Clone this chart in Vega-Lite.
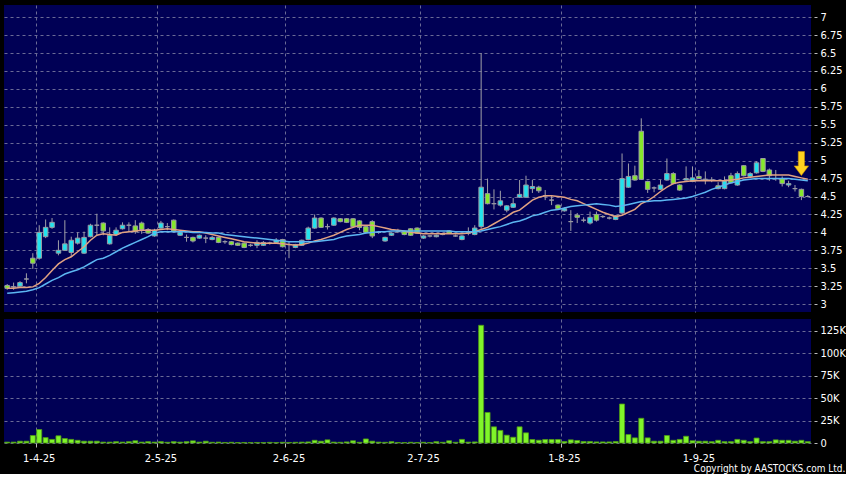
{
"$schema": "https://vega.github.io/schema/vega-lite/v6.json",
"background": "#000000",
"padding": {"left": 4, "top": 5, "right": 0, "bottom": 0},
"autosize": {"type": "pad"},
"spacing": 7,
"config": {
  "view": {"fill": "#000055", "stroke": null},
  "axis": {"gridColor": "#6a6a96", "gridDash": [3, 3], "gridWidth": 1, "labelColor": "#ffffff", "labelFont": "DejaVu Sans Condensed, DejaVu Sans", "labelFontSize": 11, "tickColor": "#bbbbbb", "domain": false, "title": null, "labelOverlap": false}
},
"title": {"text": "Copyright by AASTOCKS.com Ltd.", "orient": "bottom", "anchor": "end", "frame": "bounds", "color": "#ffffff", "fontSize": 10, "font": "DejaVu Sans Condensed, DejaVu Sans", "fontWeight": "normal", "offset": 1},
"datasets": {"p": [
{"d":"25-3-25","o":3.26,"h":3.28,"l":3.20,"c":3.22,"v":1000,"m1":3.22,"m2":3.15},
{"d":"26-3-25","o":3.24,"h":3.30,"l":3.20,"c":3.24,"v":1000,"m1":3.22,"m2":3.16},
{"d":"27-3-25","o":3.25,"h":3.32,"l":3.24,"c":3.30,"v":2000,"m1":3.23,"m2":3.17},
{"d":"28-3-25","o":3.35,"h":3.43,"l":3.29,"c":3.35,"v":2000,"m1":3.23,"m2":3.18},
{"d":"31-3-25","o":3.64,"h":3.71,"l":3.49,"c":3.57,"v":8300,"m1":3.24,"m2":3.20},
{"d":"1-4-25","o":3.64,"h":4.10,"l":3.62,"c":4.00,"v":15000,"m1":3.29,"m2":3.23},
{"d":"2-4-25","o":3.94,"h":4.18,"l":3.92,"c":4.07,"v":6000,"m1":3.37,"m2":3.28},
{"d":"3-4-25","o":4.07,"h":4.20,"l":4.05,"c":4.14,"v":4000,"m1":3.47,"m2":3.33},
{"d":"7-4-25","o":3.71,"h":3.89,"l":3.68,"c":3.75,"v":8000,"m1":3.56,"m2":3.37},
{"d":"8-4-25","o":3.75,"h":4.17,"l":3.74,"c":3.84,"v":5000,"m1":3.62,"m2":3.42},
{"d":"9-4-25","o":3.72,"h":3.94,"l":3.66,"c":3.89,"v":4000,"m1":3.66,"m2":3.45},
{"d":"10-4-25","o":3.85,"h":4.00,"l":3.83,"c":3.92,"v":3000,"m1":3.73,"m2":3.48},
{"d":"11-4-25","o":3.71,"h":4.01,"l":3.70,"c":3.93,"v":2000,"m1":3.80,"m2":3.52},
{"d":"14-4-25","o":3.94,"h":4.12,"l":3.93,"c":4.10,"v":2000,"m1":3.89,"m2":3.57},
{"d":"15-4-25","o":4.10,"h":4.26,"l":3.96,"c":4.10,"v":2000,"m1":3.96,"m2":3.62},
{"d":"16-4-25","o":4.13,"h":4.14,"l":3.96,"c":4.02,"v":1000,"m1":3.98,"m2":3.64},
{"d":"17-4-25","o":3.84,"h":4.07,"l":3.83,"c":3.96,"v":1000,"m1":3.97,"m2":3.68},
{"d":"22-4-25","o":3.97,"h":4.07,"l":3.96,"c":4.03,"v":1500,"m1":3.96,"m2":3.73},
{"d":"23-4-25","o":4.05,"h":4.14,"l":4.04,"c":4.10,"v":1000,"m1":4.00,"m2":3.78},
{"d":"24-4-25","o":4.10,"h":4.14,"l":4.00,"c":4.10,"v":1500,"m1":4.01,"m2":3.82},
{"d":"25-4-25","o":4.09,"h":4.17,"l":3.98,"c":4.01,"v":2500,"m1":4.02,"m2":3.86},
{"d":"28-4-25","o":4.13,"h":4.15,"l":3.98,"c":4.04,"v":1000,"m1":4.03,"m2":3.90},
{"d":"29-4-25","o":4.04,"h":4.06,"l":3.98,"c":3.99,"v":1500,"m1":4.03,"m2":3.94},
{"d":"30-4-25","o":3.95,"h":4.05,"l":3.94,"c":4.03,"v":1000,"m1":4.03,"m2":3.99},
{"d":"2-5-25","o":4.06,"h":4.16,"l":4.05,"c":4.13,"v":1500,"m1":4.04,"m2":4.01},
{"d":"6-5-25","o":4.08,"h":4.13,"l":4.03,"c":4.08,"v":800,"m1":4.05,"m2":4.01},
{"d":"7-5-25","o":4.17,"h":4.18,"l":4.00,"c":4.02,"v":1500,"m1":4.04,"m2":4.01},
{"d":"8-5-25","o":3.96,"h":4.03,"l":3.95,"c":4.00,"v":1000,"m1":4.03,"m2":4.01},
{"d":"9-5-25","o":3.93,"h":3.97,"l":3.87,"c":3.93,"v":1500,"m1":4.02,"m2":4.01},
{"d":"12-5-25","o":3.93,"h":3.94,"l":3.86,"c":3.88,"v":2400,"m1":4.01,"m2":4.00},
{"d":"13-5-25","o":3.92,"h":3.97,"l":3.91,"c":3.96,"v":1000,"m1":4.01,"m2":4.00},
{"d":"14-5-25","o":3.92,"h":3.96,"l":3.85,"c":3.92,"v":2000,"m1":3.99,"m2":4.00},
{"d":"15-5-25","o":3.90,"h":3.95,"l":3.89,"c":3.93,"v":800,"m1":3.97,"m2":3.99},
{"d":"16-5-25","o":3.93,"h":3.94,"l":3.85,"c":3.86,"v":1000,"m1":3.95,"m2":3.99},
{"d":"19-5-25","o":3.87,"h":3.89,"l":3.84,"c":3.87,"v":600,"m1":3.93,"m2":3.97},
{"d":"20-5-25","o":3.87,"h":3.88,"l":3.82,"c":3.83,"v":800,"m1":3.91,"m2":3.96},
{"d":"21-5-25","o":3.85,"h":3.86,"l":3.81,"c":3.82,"v":500,"m1":3.89,"m2":3.95},
{"d":"22-5-25","o":3.85,"h":3.86,"l":3.78,"c":3.79,"v":600,"m1":3.87,"m2":3.94},
{"d":"23-5-25","o":3.82,"h":3.84,"l":3.80,"c":3.82,"v":500,"m1":3.86,"m2":3.93},
{"d":"26-5-25","o":3.82,"h":3.89,"l":3.78,"c":3.86,"v":600,"m1":3.85,"m2":3.92},
{"d":"27-5-25","o":3.82,"h":3.88,"l":3.81,"c":3.86,"v":500,"m1":3.85,"m2":3.91},
{"d":"28-5-25","o":3.85,"h":3.87,"l":3.83,"c":3.85,"v":700,"m1":3.85,"m2":3.90},
{"d":"29-5-25","o":3.86,"h":3.92,"l":3.85,"c":3.89,"v":500,"m1":3.85,"m2":3.89},
{"d":"30-5-25","o":3.90,"h":3.91,"l":3.79,"c":3.80,"v":800,"m1":3.84,"m2":3.88},
{"d":"2-6-25","o":3.83,"h":3.87,"l":3.64,"c":3.83,"v":600,"m1":3.83,"m2":3.87},
{"d":"3-6-25","o":3.79,"h":3.84,"l":3.78,"c":3.83,"v":800,"m1":3.82,"m2":3.87},
{"d":"4-6-25","o":3.82,"h":3.90,"l":3.81,"c":3.89,"v":1000,"m1":3.83,"m2":3.87},
{"d":"5-6-25","o":3.90,"h":4.08,"l":3.89,"c":4.06,"v":1200,"m1":3.85,"m2":3.87},
{"d":"6-6-25","o":4.06,"h":4.25,"l":4.05,"c":4.20,"v":3000,"m1":3.88,"m2":3.87},
{"d":"9-6-25","o":4.20,"h":4.21,"l":4.06,"c":4.07,"v":2000,"m1":3.90,"m2":3.88},
{"d":"10-6-25","o":4.08,"h":4.12,"l":4.04,"c":4.08,"v":3500,"m1":3.93,"m2":3.89},
{"d":"11-6-25","o":4.10,"h":4.21,"l":4.09,"c":4.20,"v":1000,"m1":3.96,"m2":3.90},
{"d":"12-6-25","o":4.19,"h":4.20,"l":4.14,"c":4.15,"v":800,"m1":4.00,"m2":3.93},
{"d":"13-6-25","o":4.19,"h":4.20,"l":4.13,"c":4.14,"v":1200,"m1":4.04,"m2":3.95},
{"d":"16-6-25","o":4.19,"h":4.20,"l":4.06,"c":4.08,"v":2500,"m1":4.07,"m2":3.96},
{"d":"17-6-25","o":4.16,"h":4.17,"l":4.03,"c":4.07,"v":800,"m1":4.10,"m2":3.97},
{"d":"18-6-25","o":4.08,"h":4.09,"l":3.98,"c":4.00,"v":4500,"m1":4.10,"m2":3.99},
{"d":"19-6-25","o":4.15,"h":4.17,"l":3.92,"c":3.95,"v":2000,"m1":4.10,"m2":4.00},
{"d":"20-6-25","o":4.00,"h":4.02,"l":3.98,"c":4.00,"v":1000,"m1":4.08,"m2":4.01},
{"d":"23-6-25","o":3.88,"h":3.94,"l":3.87,"c":3.93,"v":800,"m1":4.06,"m2":4.01},
{"d":"24-6-25","o":3.96,"h":4.00,"l":3.95,"c":3.99,"v":1500,"m1":4.04,"m2":4.02},
{"d":"25-6-25","o":4.01,"h":4.05,"l":3.99,"c":4.01,"v":600,"m1":4.03,"m2":4.02},
{"d":"26-6-25","o":4.01,"h":4.02,"l":3.96,"c":3.97,"v":500,"m1":4.02,"m2":4.02},
{"d":"27-6-25","o":4.05,"h":4.06,"l":3.95,"c":3.96,"v":800,"m1":4.00,"m2":4.02},
{"d":"30-6-25","o":4.06,"h":4.07,"l":3.98,"c":3.99,"v":600,"m1":3.99,"m2":4.02},
{"d":"2-7-25","o":3.92,"h":3.96,"l":3.91,"c":3.95,"v":800,"m1":3.98,"m2":4.02},
{"d":"3-7-25","o":3.95,"h":3.96,"l":3.93,"c":3.95,"v":500,"m1":3.98,"m2":4.02},
{"d":"4-7-25","o":3.94,"h":3.97,"l":3.93,"c":3.96,"v":1500,"m1":3.98,"m2":4.02},
{"d":"7-7-25","o":3.97,"h":3.98,"l":3.96,"c":3.97,"v":800,"m1":3.98,"m2":4.02},
{"d":"8-7-25","o":4.02,"h":4.03,"l":3.98,"c":3.99,"v":2500,"m1":3.98,"m2":4.02},
{"d":"9-7-25","o":3.95,"h":3.97,"l":3.94,"c":3.95,"v":800,"m1":3.98,"m2":4.01},
{"d":"10-7-25","o":3.90,"h":3.96,"l":3.89,"c":3.95,"v":4000,"m1":3.98,"m2":4.01},
{"d":"11-7-25","o":3.99,"h":4.07,"l":3.96,"c":3.99,"v":1000,"m1":3.99,"m2":4.01},
{"d":"14-7-25","o":3.97,"h":4.10,"l":3.96,"c":4.06,"v":1200,"m1":4.01,"m2":4.01},
{"d":"15-7-25","o":4.08,"h":6.50,"l":4.05,"c":4.63,"v":131000,"m1":4.04,"m2":4.02},
{"d":"16-7-25","o":4.54,"h":4.75,"l":4.39,"c":4.40,"v":34000,"m1":4.07,"m2":4.04},
{"d":"17-7-25","o":4.40,"h":4.60,"l":4.32,"c":4.40,"v":18000,"m1":4.12,"m2":4.06},
{"d":"18-7-25","o":4.38,"h":4.58,"l":4.36,"c":4.44,"v":14000,"m1":4.17,"m2":4.08},
{"d":"21-7-25","o":4.31,"h":4.38,"l":4.28,"c":4.37,"v":8700,"m1":4.22,"m2":4.11},
{"d":"22-7-25","o":4.35,"h":4.48,"l":4.34,"c":4.40,"v":6400,"m1":4.28,"m2":4.14},
{"d":"23-7-25","o":4.49,"h":4.73,"l":4.48,"c":4.53,"v":18000,"m1":4.31,"m2":4.16},
{"d":"24-7-25","o":4.49,"h":4.79,"l":4.48,"c":4.66,"v":11300,"m1":4.38,"m2":4.19},
{"d":"25-7-25","o":4.61,"h":4.73,"l":4.55,"c":4.64,"v":3900,"m1":4.45,"m2":4.23},
{"d":"28-7-25","o":4.63,"h":4.65,"l":4.55,"c":4.58,"v":3100,"m1":4.49,"m2":4.25},
{"d":"29-7-25","o":4.51,"h":4.59,"l":4.45,"c":4.51,"v":3900,"m1":4.51,"m2":4.28},
{"d":"30-7-25","o":4.45,"h":4.52,"l":4.38,"c":4.45,"v":3900,"m1":4.51,"m2":4.31},
{"d":"31-7-25","o":4.38,"h":4.39,"l":4.32,"c":4.33,"v":3900,"m1":4.50,"m2":4.32},
{"d":"1-8-25","o":4.30,"h":4.35,"l":4.29,"c":4.33,"v":1700,"m1":4.49,"m2":4.34},
{"d":"4-8-25","o":4.15,"h":4.31,"l":4.02,"c":4.15,"v":3500,"m1":4.46,"m2":4.36},
{"d":"5-8-25","o":4.24,"h":4.27,"l":4.13,"c":4.21,"v":2800,"m1":4.44,"m2":4.37},
{"d":"6-8-25","o":4.17,"h":4.21,"l":4.14,"c":4.17,"v":1700,"m1":4.40,"m2":4.38},
{"d":"7-8-25","o":4.13,"h":4.29,"l":4.11,"c":4.21,"v":1700,"m1":4.36,"m2":4.39},
{"d":"8-8-25","o":4.25,"h":4.29,"l":4.15,"c":4.17,"v":1200,"m1":4.32,"m2":4.40},
{"d":"11-8-25","o":4.22,"h":4.24,"l":4.20,"c":4.22,"v":1200,"m1":4.28,"m2":4.39},
{"d":"12-8-25","o":4.20,"h":4.22,"l":4.18,"c":4.20,"v":1200,"m1":4.25,"m2":4.38},
{"d":"13-8-25","o":4.18,"h":4.24,"l":4.17,"c":4.23,"v":1700,"m1":4.22,"m2":4.36},
{"d":"14-8-25","o":4.27,"h":5.10,"l":4.25,"c":4.75,"v":43400,"m1":4.24,"m2":4.37},
{"d":"15-8-25","o":4.63,"h":4.96,"l":4.62,"c":4.78,"v":9400,"m1":4.28,"m2":4.39},
{"d":"18-8-25","o":4.79,"h":4.93,"l":4.72,"c":4.73,"v":5700,"m1":4.32,"m2":4.41},
{"d":"19-8-25","o":5.41,"h":5.59,"l":4.73,"c":4.74,"v":27500,"m1":4.40,"m2":4.43},
{"d":"20-8-25","o":4.71,"h":4.72,"l":4.55,"c":4.60,"v":5700,"m1":4.44,"m2":4.43},
{"d":"21-8-25","o":4.62,"h":4.64,"l":4.56,"c":4.62,"v":2000,"m1":4.50,"m2":4.44},
{"d":"22-8-25","o":4.60,"h":4.73,"l":4.59,"c":4.66,"v":2000,"m1":4.57,"m2":4.44},
{"d":"25-8-25","o":4.73,"h":5.03,"l":4.72,"c":4.82,"v":8300,"m1":4.63,"m2":4.45},
{"d":"26-8-25","o":4.82,"h":4.84,"l":4.67,"c":4.68,"v":3000,"m1":4.68,"m2":4.46},
{"d":"27-8-25","o":4.66,"h":4.67,"l":4.58,"c":4.59,"v":4000,"m1":4.70,"m2":4.47},
{"d":"28-8-25","o":4.73,"h":4.92,"l":4.72,"c":4.75,"v":7500,"m1":4.71,"m2":4.48},
{"d":"29-8-25","o":4.71,"h":4.92,"l":4.70,"c":4.76,"v":2500,"m1":4.72,"m2":4.50},
{"d":"1-9-25","o":4.78,"h":4.87,"l":4.74,"c":4.75,"v":2000,"m1":4.72,"m2":4.53},
{"d":"2-9-25","o":4.74,"h":4.85,"l":4.67,"c":4.74,"v":2000,"m1":4.72,"m2":4.56},
{"d":"3-9-25","o":4.73,"h":4.77,"l":4.70,"c":4.73,"v":1500,"m1":4.72,"m2":4.60},
{"d":"4-9-25","o":4.65,"h":4.70,"l":4.60,"c":4.61,"v":3000,"m1":4.72,"m2":4.63},
{"d":"5-9-25","o":4.61,"h":4.78,"l":4.60,"c":4.72,"v":1500,"m1":4.72,"m2":4.66},
{"d":"8-9-25","o":4.79,"h":4.83,"l":4.68,"c":4.69,"v":1500,"m1":4.73,"m2":4.69},
{"d":"9-9-25","o":4.66,"h":4.85,"l":4.65,"c":4.82,"v":4000,"m1":4.74,"m2":4.71},
{"d":"10-9-25","o":4.93,"h":4.94,"l":4.78,"c":4.79,"v":3000,"m1":4.76,"m2":4.73},
{"d":"11-9-25","o":4.78,"h":4.84,"l":4.77,"c":4.82,"v":1500,"m1":4.77,"m2":4.74},
{"d":"12-9-25","o":4.83,"h":4.99,"l":4.82,"c":4.97,"v":5500,"m1":4.78,"m2":4.75},
{"d":"15-9-25","o":5.03,"h":5.03,"l":4.84,"c":4.85,"v":1500,"m1":4.79,"m2":4.75},
{"d":"16-9-25","o":4.87,"h":4.89,"l":4.72,"c":4.79,"v":1500,"m1":4.80,"m2":4.75},
{"d":"17-9-25","o":4.75,"h":4.87,"l":4.72,"c":4.75,"v":3500,"m1":4.80,"m2":4.75},
{"d":"18-9-25","o":4.75,"h":4.78,"l":4.64,"c":4.68,"v":3000,"m1":4.80,"m2":4.75},
{"d":"19-9-25","o":4.66,"h":4.72,"l":4.63,"c":4.68,"v":3000,"m1":4.80,"m2":4.75},
{"d":"22-9-25","o":4.61,"h":4.66,"l":4.57,"c":4.61,"v":2000,"m1":4.78,"m2":4.74},
{"d":"23-9-25","o":4.60,"h":4.61,"l":4.45,"c":4.50,"v":3000,"m1":4.76,"m2":4.73,"ar":4.96},
{"d":"24-9-25","o":4.50,"h":4.52,"l":4.49,"c":4.50,"v":1500,"m1":4.74,"m2":4.72}
]},
"data": {"name": "p"},
"vconcat": [
  {
    "width": 807,
    "height": 307,
    "encoding": {
      "x": {"field": "d", "type": "ordinal", "sort": null, "scale": {"type": "band", "paddingInner": 0, "paddingOuter": 0},
            "axis": {"values": ["1-4-25", "2-5-25", "2-6-25", "2-7-25", "1-8-25", "1-9-25"], "bandPosition": 0, "labels": false, "ticks": false, "grid": true}}
    },
    "layer": [
      {
        "mark": {"type": "rule", "color": "#a0a0a8", "strokeWidth": 1},
        "encoding": {
          "y": {"field": "l", "type": "quantitative", "scale": {"domain": [2.89, 7.17], "nice": false, "zero": false},
                "axis": {"orient": "right", "values": [3, 3.25, 3.5, 3.75, 4, 4.25, 4.5, 4.75, 5, 5.25, 5.5, 5.75, 6, 6.25, 6.5, 6.75, 7], "labelExpr": "'' + datum.value", "grid": true, "tickSize": 3, "offset": 3, "labelPadding": 3, "labelOverlap": false}},
          "y2": {"field": "h"}
        }
      },
      {
        "mark": {"type": "bar", "width": 4.5, "stroke": "#9a9aa4", "strokeWidth": 1},
        "encoding": {
          "y": {"field": "o", "type": "quantitative",
                "axis": {"orient": "right", "values": [3, 3.25, 3.5, 3.75, 4, 4.25, 4.5, 4.75, 5, 5.25, 5.5, 5.75, 6, 6.25, 6.5, 6.75, 7], "labelExpr": "'' + datum.value", "grid": true, "tickSize": 3, "offset": 3, "labelPadding": 3, "labelOverlap": false}},
          "y2": {"field": "c"},
          "fill": {"condition": [{"test": "datum.c > datum.o", "value": "#22e2ee"}, {"test": "datum.c < datum.o", "value": "#86e82c"}], "value": "#9a9aa4"}
        }
      },
      {
        "mark": {"type": "line", "color": "#e2a282", "strokeWidth": 1.5},
        "encoding": {"y": {"field": "m1", "type": "quantitative",
                "axis": {"orient": "right", "values": [3, 3.25, 3.5, 3.75, 4, 4.25, 4.5, 4.75, 5, 5.25, 5.5, 5.75, 6, 6.25, 6.5, 6.75, 7], "labelExpr": "'' + datum.value", "grid": true, "tickSize": 3, "offset": 3, "labelPadding": 3, "labelOverlap": false}}}
      },
      {
        "mark": {"type": "line", "color": "#5cb6f2", "strokeWidth": 1.5},
        "encoding": {"y": {"field": "m2", "type": "quantitative",
                "axis": {"orient": "right", "values": [3, 3.25, 3.5, 3.75, 4, 4.25, 4.5, 4.75, 5, 5.25, 5.5, 5.75, 6, 6.25, 6.5, 6.75, 7], "labelExpr": "'' + datum.value", "grid": true, "tickSize": 3, "offset": 3, "labelPadding": 3, "labelOverlap": false}}}
      },
      {
        "mark": {"type": "point", "shape": "M-0.26,-1L0.26,-1L0.26,0.2L0.6,0.2L0,1L-0.6,0.2L-0.26,0.2Z", "size": 576, "filled": true, "fill": "#ffd21f", "stroke": "#c88a00", "strokeWidth": 0.6, "opacity": 1},
        "encoding": {"y": {"field": "ar", "type": "quantitative",
                "axis": {"orient": "right", "values": [3, 3.25, 3.5, 3.75, 4, 4.25, 4.5, 4.75, 5, 5.25, 5.5, 5.75, 6, 6.25, 6.5, 6.75, 7], "labelExpr": "'' + datum.value", "grid": true, "tickSize": 3, "offset": 3, "labelPadding": 3, "labelOverlap": false}}}
      }
    ]
  },
  {
    "width": 807,
    "height": 124,
    "mark": {"type": "bar", "width": 5, "fill": "#80f52a", "stroke": "#4f9a14", "strokeWidth": 0.8},
    "encoding": {
      "x": {"field": "d", "type": "ordinal", "sort": null, "scale": {"type": "band", "paddingInner": 0, "paddingOuter": 0},
            "axis": {"values": ["1-4-25", "2-5-25", "2-6-25", "2-7-25", "1-8-25", "1-9-25"], "bandPosition": 0, "labelAngle": 0, "labelOverlap": false, "grid": true, "ticks": true, "tickSize": 4, "labelPadding": 5}},
      "y": {"field": "v", "type": "quantitative", "scale": {"domain": [0, 138000], "nice": false},
            "axis": {"orient": "right", "values": [0, 25000, 50000, 75000, 100000, 125000], "labelExpr": "datum.value == 0 ? '0' : (datum.value / 1000) + 'K'", "grid": true, "tickSize": 3, "offset": 3, "labelPadding": 3}}
    }
  }
]
}
